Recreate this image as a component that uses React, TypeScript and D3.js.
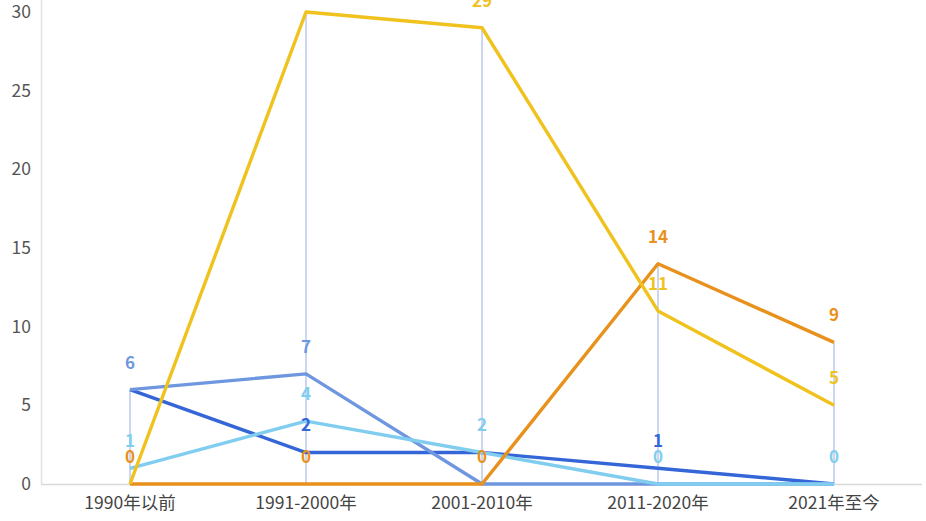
import React from "react";
import * as d3 from "d3";

const categories = ["1990年以前", "1991-2000年", "2001-2010年", "2011-2020年", "2021年至今"];
const seriesNames = ["深蓝", "中蓝", "浅蓝", "橙色", "黄色"];
const darkBlue = [6, 2, 2, 1, 0];
const midBlue = [6, 7, 0, 0, 0];
const lightBlue = [1, 4, 2, 0, 0];
const orange = [0, 0, 0, 14, 9];
const yellow = [0, 30, 29, 11, 5];
const yTicks = [0, 5, 10, 15, 20, 25, 30];

const seriesValues = [darkBlue, midBlue, lightBlue, orange, yellow];
const seriesColors = ["#3566d8", "#6e97e0", "#80cdef", "#e8911c", "#f0c21e"];
// label priority (first wins when labels coincide)
const labelPriority = [2, 3, 1, 0, 4];

const W = 926;
const H = 521;

export default function App() {
  const x = d3.scaleBand<string>().domain(categories).range([42, 922]);
  const y = d3.scaleLinear().domain([0, 30]).range([484, 12]);
  const cx = (c: string) => (x(c) as number) + x.bandwidth() / 2;
  const line = d3
    .line<number>()
    .x((_, i) => cx(categories[i]))
    .y((v) => y(v));

  const labels: { x: number; y: number; text: string; color: string }[] = [];
  categories.forEach((c, ci) => {
    const used: number[] = [];
    labelPriority.forEach((si) => {
      const v = seriesValues[si][ci];
      if (used.includes(v)) return;
      used.push(v);
      labels.push({ x: cx(c), y: y(v) - 27, text: String(v), color: seriesColors[si] });
    });
  });

  const font = "'Noto Sans CJK SC', 'Noto Sans', sans-serif";

  return (
    <svg
      width={W}
      height={H}
      style={{ position: "absolute", left: 0, top: 0, background: "#fff" }}
      fontFamily={font}
    >
      {/* axes */}
      <line x1={41.5} x2={41.5} y1={0} y2={484} stroke="#e3e3e3" strokeWidth={1.5} />
      <line x1={41} x2={922} y1={484.5} y2={484.5} stroke="#d9d9d9" strokeWidth={1.5} />
      {yTicks.map((t) => (
        <text key={t} x={31} y={y(t)} dy="0.35em" textAnchor="end" fontSize={17.5} fill="#555">
          {t}
        </text>
      ))}
      {categories.map((c) => (
        <text key={c} x={cx(c)} y={503} dy="0.35em" textAnchor="middle" fontSize={17.5} fill="#444">
          {c}
        </text>
      ))}
      {/* drop lines */}
      {categories.map((c, ci) => {
        const vals = seriesValues.map((s) => s[ci]);
        return (
          <line
            key={"d" + c}
            x1={cx(c)}
            x2={cx(c)}
            y1={y(d3.max(vals) as number)}
            y2={y(d3.min(vals) as number)}
            stroke="#a9bde3"
            strokeWidth={1.2}
          />
        );
      })}
      {/* lines */}
      {seriesValues.map((s, si) => (
        <path
          key={seriesNames[si]}
          d={line(s) as string}
          fill="none"
          stroke={seriesColors[si]}
          strokeWidth={3.4}
          strokeLinejoin="round"
        />
      ))}
      {/* labels */}
      {labels.map((l, i) => (
        <text
          key={i}
          x={l.x}
          y={l.y}
          dy="0.35em"
          textAnchor="middle"
          fontSize={17}
          fontWeight="bold"
          fill={l.color}
        >
          {l.text}
        </text>
      ))}
    </svg>
  );
}
